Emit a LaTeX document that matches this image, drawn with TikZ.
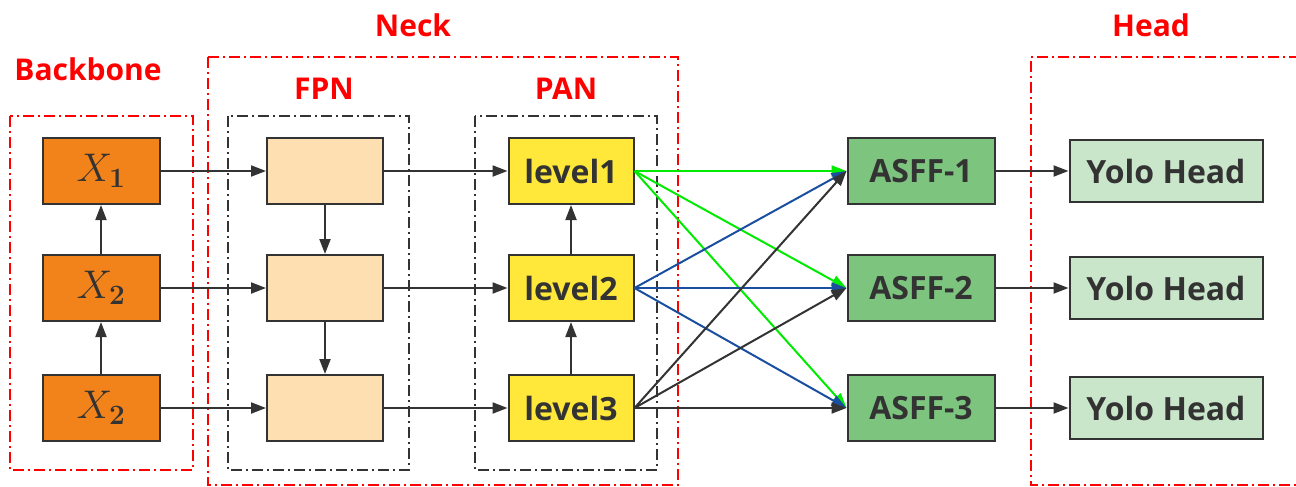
\RequirePackage{fix-cm}
\documentclass[tikz,border=0pt]{standalone}
\usepackage[no-math]{fontspec}
\setmainfont{Open Sans}
\usepackage{xcolor}
\usepackage{tikz}
\usetikzlibrary{arrows.meta}

\definecolor{lineGray}{RGB}{51,51,51}
\definecolor{frameRed}{RGB}{255,0,0}
\definecolor{xOrange}{RGB}{242,130,26}
\definecolor{fpnPeach}{RGB}{253,223,178}
\definecolor{lvlYellow}{RGB}{255,232,58}
\definecolor{asffGreen}{RGB}{125,196,127}
\definecolor{yoloGreen}{RGB}{201,230,202}
\definecolor{linkGreen}{RGB}{0,235,0}
\definecolor{linkBlue}{RGB}{26,79,160}

\begin{document}
\begin{tikzpicture}[
  x=1pt, y=-1pt,
  block/.style={draw=lineGray, line width=2pt, minimum height=66pt, inner sep=0pt, text=lineGray, font=\fontsize{32}{36}\selectfont\bfseries},
  xbox/.style={block, fill=xOrange, minimum width=117pt, font=\fontsize{40}{44}\selectfont},
  fpnbox/.style={block, fill=fpnPeach, minimum width=116pt},
  lvlbox/.style={block, fill=lvlYellow, minimum width=125pt},
  asffbox/.style={block, fill=asffGreen, minimum width=147pt},
  yolobox/.style={block, fill=yoloGreen, minimum width=193pt, minimum height=62pt},
  redframe/.style={draw=frameRed, line width=2.4pt, dash pattern=on 11pt off 4pt on 2pt off 4pt},
  blackframe/.style={draw=lineGray, line width=2.4pt, dash pattern=on 11pt off 4pt on 2pt off 4pt},
  grouplabel/.style={text=frameRed, font=\fontsize{30}{34}\selectfont\bfseries, inner sep=0pt},
  arr/.style={-{Triangle[length=15pt, width=11pt]}, line width=2pt, draw=lineGray, fill=lineGray}
]
\useasboundingbox (0,0) rectangle (1296,487);

\draw[redframe] (10,116) rectangle (193,470);
\draw[redframe] (208,57) rectangle (678,485);
\draw[redframe] (1300,57) -- (1031,57) -- (1031,485) -- (1300,485);
\draw[blackframe] (228,116) rectangle (409,470);
\draw[blackframe] (475,116) rectangle (657,470);

\node[grouplabel] (lbackbone) at (88,69) {Backbone};
\node[grouplabel] (lneck) at (413,25) {Neck};
\node[grouplabel] (lfpn) at (324,89) {FPN};
\node[grouplabel] (lpan) at (566,89) {PAN};
\node[grouplabel] (lhead) at (1151,25) {Head};

\node[xbox] (x1) at (101,171) {$X_{\mathbf{1}}$};
\node[xbox] (x2) at (101,288) {$X_{\mathbf{2}}$};
\node[xbox] (x3) at (101,408) {$X_{\mathbf{2}}$};

\node[fpnbox] (fpn1) at (325,171) {};
\node[fpnbox] (fpn2) at (325,288) {};
\node[fpnbox] (fpn3) at (325,408) {};

\node[lvlbox] (lvl1) at (571,171) {level1};
\node[lvlbox] (lvl2) at (571,288) {level2};
\node[lvlbox] (lvl3) at (571,408) {level3};

\node[asffbox] (asff1) at (921,171) {ASFF-1};
\node[asffbox] (asff2) at (921,288) {ASFF-2};
\node[asffbox] (asff3) at (921,408) {ASFF-3};

\node[yolobox] (yolo1) at (1166,171) {Yolo Head};
\node[yolobox] (yolo2) at (1166,288) {Yolo Head};
\node[yolobox] (yolo3) at (1166,408) {Yolo Head};

\draw[arr] (x3.north) -- (x2.south);
\draw[arr] (x2.north) -- (x1.south);
\draw[arr] (x1.east) -- (fpn1.west);
\draw[arr] (x2.east) -- (fpn2.west);
\draw[arr] (x3.east) -- (fpn3.west);

\draw[arr] (fpn1.south) -- (fpn2.north);
\draw[arr] (fpn2.south) -- (fpn3.north);
\draw[arr] (fpn1.east) -- (lvl1.west);
\draw[arr] (fpn2.east) -- (lvl2.west);
\draw[arr] (fpn3.east) -- (lvl3.west);

\draw[arr] (lvl3.north) -- (lvl2.south);
\draw[arr] (lvl2.north) -- (lvl1.south);

\draw[arr, draw=linkGreen, fill=linkGreen] (lvl1.east) -- (asff1.west);
\draw[arr, draw=linkGreen, fill=linkGreen] (lvl1.east) -- (asff2.west);
\draw[arr, draw=linkGreen, fill=linkGreen] (lvl1.east) -- (asff3.west);
\draw[arr, draw=linkBlue, fill=linkBlue] (lvl2.east) -- (asff1.west);
\draw[arr, draw=linkBlue, fill=linkBlue] (lvl2.east) -- (asff2.west);
\draw[arr, draw=linkBlue, fill=linkBlue] (lvl2.east) -- (asff3.west);
\draw[arr] (lvl3.east) -- (asff1.west);
\draw[arr] (lvl3.east) -- (asff2.west);
\draw[arr] (lvl3.east) -- (asff3.west);

\draw[arr] (asff1.east) -- (yolo1.west);
\draw[arr] (asff2.east) -- (yolo2.west);
\draw[arr] (asff3.east) -- (yolo3.west);
\end{tikzpicture}
\end{document}
